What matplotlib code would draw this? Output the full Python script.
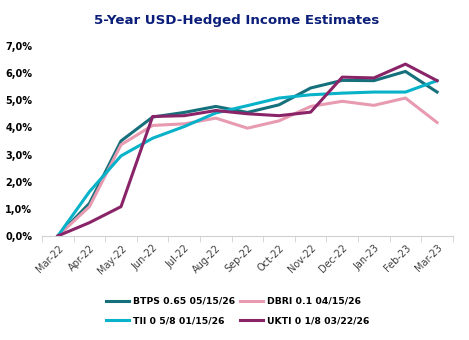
import matplotlib.pyplot as plt
from matplotlib.ticker import FuncFormatter

# Data
months = ['Mar-22', 'Apr-22', 'May-22', 'Jun-22', 'Jul-22', 'Aug-22', 'Sep-22',
          'Oct-22', 'Nov-22', 'Dec-22', 'Jan-23', 'Feb-23', 'Mar-23']
btps = [0.0, 1.20, 3.50, 4.38, 4.55, 4.77, 4.55, 4.83, 5.45, 5.73, 5.72, 6.06, 5.30]
dbri = [0.0, 1.08, 3.36, 4.07, 4.13, 4.34, 3.97, 4.24, 4.77, 4.96, 4.81, 5.08, 4.18]
tii = [0.0, 1.63, 2.95, 3.60, 4.03, 4.53, 4.80, 5.08, 5.20, 5.26, 5.30, 5.30, 5.72]
ukti = [0.0, 0.49, 1.08, 4.40, 4.43, 4.62, 4.50, 4.43, 4.56, 5.85, 5.82, 6.33, 5.72]

COND = 'DejaVu Sans Condensed'

fig = plt.figure(figsize=(4.69, 3.40), dpi=100)
ax = fig.add_axes([0.0896, 0.306, 0.876, 0.559])

x = range(len(months))
lw = 2.2
l_btps, = ax.plot(x, btps, color='#16707B', lw=lw, label='BTPS 0.65 05/15/26')
l_dbri, = ax.plot(x, dbri, color='#E89AB0', lw=lw, label='DBRI 0.1 04/15/26')
l_tii, = ax.plot(x, tii, color='#08B2C9', lw=lw, label='TII 0 5/8 01/15/26')
l_ukti, = ax.plot(x, ukti, color='#8A2468', lw=lw, label='UKTI 0 1/8 03/22/26')

ax.set_xlim(-0.5, len(months) - 0.5)
ax.set_ylim(0, 7)
ax.set_yticks(range(8))
ax.yaxis.set_major_formatter(FuncFormatter(lambda v, p: f'{v:.1f}%'.replace('.', ',')))
ax.set_xticks(list(x))
ax.set_xticklabels(months, rotation=45, ha='right', rotation_mode='anchor',
                   fontsize=7, color='#404040', family=COND)
ax.set_xticks([i - 0.5 for i in range(len(months) + 1)], minor=True)
ax.tick_params(axis='x', which='major', length=0, pad=5)
ax.tick_params(axis='x', which='minor', length=4, color='#D0D0D0')
ax.tick_params(axis='y', length=0, pad=7)
for lbl in ax.get_yticklabels():
    lbl.set_fontweight('bold')
    lbl.set_family(COND)
    lbl.set_fontsize(7)

for s in ['top', 'right', 'left']:
    ax.spines[s].set_visible(False)
ax.spines['bottom'].set_color('#D0D0D0')

fig.text(0.505, 0.94, '5-Year USD-Hedged Income Estimates', ha='center', va='center',
         fontsize=9.6, fontweight='bold', color='#0B1F7A', family=COND)

# two columns, filled column by column
fig.legend([l_btps, l_tii, l_dbri, l_ukti],
           [l.get_label() for l in (l_btps, l_tii, l_dbri, l_ukti)],
           loc='center', bbox_to_anchor=(0.506, 0.085), ncol=2, frameon=False,
           prop={'size': 6.7, 'weight': 'bold', 'family': COND},
           handlelength=2.5, columnspacing=0.5, handletextpad=0.4, labelspacing=1.1)

fig.savefig('out.png', dpi=100)
